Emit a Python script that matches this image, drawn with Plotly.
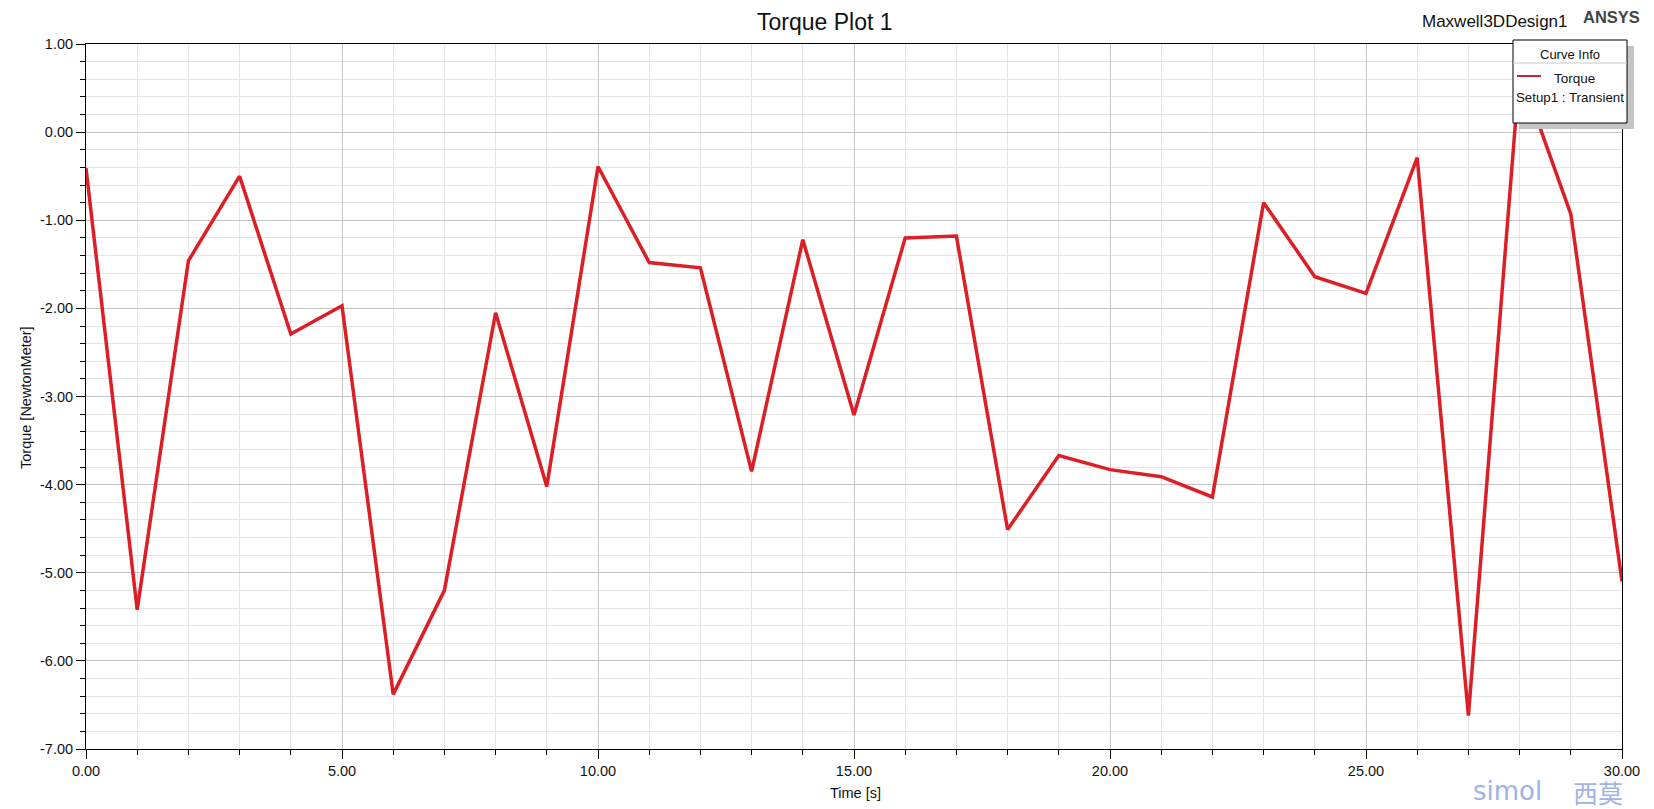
import plotly.graph_objects as go

# ---- data ----
time_s = [0, 1, 2, 3, 4, 5, 6, 7, 8, 9, 10, 11, 12, 13, 14, 15, 16, 17, 18, 19, 20,
          21, 22, 23, 24, 25, 26, 27, 28, 29, 30]
torque_nm = [-0.41, -5.42, -1.46, -0.50, -2.29, -1.97, -6.38, -5.20, -2.05, -4.02, -0.39,
             -1.48, -1.54, -3.85, -1.22, -3.21, -1.20, -1.18, -4.51, -3.67, -3.83,
             -3.91, -4.14, -0.80, -1.64, -1.83, -0.29, -6.62, 0.70, -0.93, -5.10]

x_tickvals = [0, 5, 10, 15, 20, 25, 30]
x_ticktext = ["0.00", "5.00", "10.00", "15.00", "20.00", "25.00", "30.00"]
y_tickvals = [1, 0, -1, -2, -3, -4, -5, -6, -7]
y_ticktext = ["1.00", "0.00", "-1.00", "-2.00", "-3.00", "-4.00", "-5.00", "-6.00", "-7.00"]

# ---- layout geometry ----
W, H = 1654, 809
L, R, T, B = 86, 1622, 44, 749
FONT = "Arial, 'Liberation Sans', sans-serif"
RED = "#dc1f26"


def px(xp):
    return (xp - L) / (R - L)


def py(yp):
    return (B - yp) / (B - T)


fig = go.Figure()
fig.add_trace(go.Scatter(x=time_s, y=torque_nm, mode="lines",
                         line=dict(color=RED, width=3.5), showlegend=False,
                         name="Torque"))

axis_common = dict(
    showline=True, linecolor="black", linewidth=1, mirror=True,
    ticks="outside", ticklen=9, tickcolor="black", tickwidth=1,
    showgrid=True, gridcolor="#c6c6c6", gridwidth=1, zeroline=False,
    tickfont=dict(family=FONT, size=14.5, color="#111111"),
)

fig.update_xaxes(range=[0, 30], tickvals=x_tickvals, ticktext=x_ticktext,
                 minor=dict(dtick=1, ticklen=5, tickcolor="black", ticks="outside",
                            showgrid=True, gridcolor="#e4e4e4", gridwidth=1),
                 **axis_common)
fig.update_yaxes(range=[-7, 1], tickvals=y_tickvals, ticktext=y_ticktext,
                 minor=dict(dtick=0.2, ticklen=5, tickcolor="black", ticks="outside",
                            showgrid=True, gridcolor="#e4e4e4", gridwidth=1),
                 **axis_common)

annotations = [
    dict(text="Torque Plot 1", xref="paper", yref="paper", x=px(825), y=py(22),
         showarrow=False, xanchor="center", yanchor="middle",
         font=dict(family=FONT, size=23, color="#111111")),
    dict(text="Maxwell3DDesign1", xref="paper", yref="paper", x=px(1495), y=py(21),
         showarrow=False, xanchor="center", yanchor="middle",
         font=dict(family=FONT, size=17, color="#111111")),
    dict(text="<b>ANSYS</b>", xref="paper", yref="paper", x=px(1611), y=py(17),
         showarrow=False, xanchor="center", yanchor="middle",
         font=dict(family=FONT, size=16.5, color="#444444")),
    dict(text="Time [s]", xref="paper", yref="paper", x=px(855), y=py(793),
         showarrow=False, xanchor="center", yanchor="middle",
         font=dict(family=FONT, size=14.5, color="#111111")),
    dict(text="Torque [NewtonMeter]", xref="paper", yref="paper", x=px(26), y=py(398),
         showarrow=False, xanchor="center", yanchor="middle", textangle=-90,
         font=dict(family=FONT, size=14.5, color="#111111")),
    # legend texts
    dict(text="Curve Info", xref="paper", yref="paper", x=px(1570), y=py(54),
         showarrow=False, xanchor="center", yanchor="middle",
         font=dict(family=FONT, size=13, color="#111111")),
    dict(text="Torque", xref="paper", yref="paper", x=px(1574), y=py(79),
         showarrow=False, xanchor="center", yanchor="middle",
         font=dict(family=FONT, size=13.5, color="#111111")),
    dict(text="Setup1 : Transient", xref="paper", yref="paper", x=px(1570), y=py(97),
         showarrow=False, xanchor="center", yanchor="middle",
         font=dict(family=FONT, size=13.3, color="#111111")),
    # watermark
    dict(text="simol", xref="paper", yref="paper", x=px(1507), y=py(791),
         showarrow=False, xanchor="center", yanchor="middle",
         font=dict(family="'DejaVu Sans', sans-serif", size=26, color="#9db3e6")),
    dict(text="西莫", xref="paper", yref="paper", x=px(1598), y=py(792),
         showarrow=False, xanchor="center", yanchor="middle",
         font=dict(family="'Noto Sans CJK SC', sans-serif", size=25, color="#9db3e6")),
]

shapes = [
    # legend shadow
    dict(type="rect", xref="paper", yref="paper", x0=px(1519), x1=px(1634),
         y0=py(46), y1=py(129), fillcolor="#c4c4c4", line=dict(width=0), layer="above"),
    # legend box
    dict(type="rect", xref="paper", yref="paper", x0=px(1513), x1=px(1627),
         y0=py(40), y1=py(123), fillcolor="white", line=dict(color="black", width=1),
         layer="above"),
    # header separator
    dict(type="line", xref="paper", yref="paper", x0=px(1513), x1=px(1627),
         y0=py(63), y1=py(63), line=dict(color="#c8c8c8", width=1), layer="above"),
    # legend line sample
    dict(type="line", xref="paper", yref="paper", x0=px(1517), x1=px(1541),
         y0=py(76), y1=py(76), line=dict(color="#c42838", width=2), layer="above"),
]

fig.update_layout(
    width=W, height=H,
    margin=dict(l=L, r=W - R, t=T, b=H - B, pad=0),
    paper_bgcolor="white", plot_bgcolor="white",
    showlegend=False,
    annotations=annotations,
    shapes=shapes,
    font=dict(family=FONT),
)

fig.write_html("out.html")
